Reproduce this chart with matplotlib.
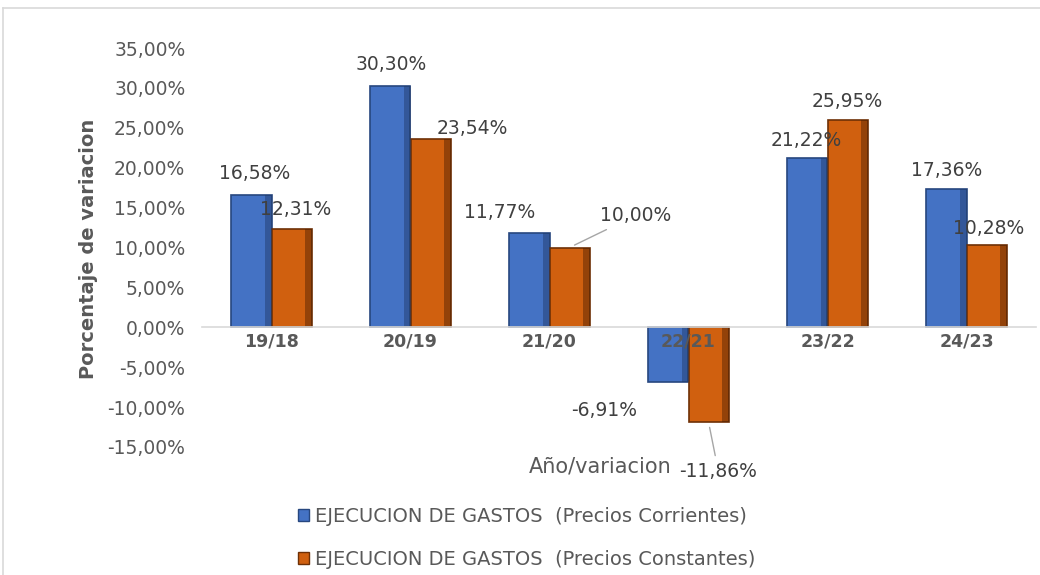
import matplotlib.pyplot as plt
import numpy as np
from matplotlib.lines import Line2D
from matplotlib.patches import Patch

# datos
periodos = ['19/18', '20/19', '21/20', '22/21', '23/22', '24/23']
corrientes = [16.58, 30.30, 11.77, -6.91, 21.22, 17.36]
constantes = [12.31, 23.54, 10.00, -11.86, 25.95, 10.28]
y_ticks = [-15, -10, -5, 0, 5, 10, 15, 20, 25, 30, 35]
serie_corr = 'EJECUCION DE GASTOS  (Precios Corrientes)'
serie_const = 'EJECUCION DE GASTOS  (Precios Constantes)'

# desplazamiento de las etiquetas (pixeles) respecto al extremo de la barra
off_corr = [(3, 21), (1, 21), (-30, 21), (-64, -28), (-1, 17), (0, 18)]
off_const = [(4, 20), (42, 11), (66, 32), (10, -50), (0, 19), (2, 17)]
guia_const = [False, False, True, True, False, False]

AZUL = '#4472C4'
AZUL_BORDE = '#27477F'
NARANJA = '#D0600F'
NARANJA_BORDE = '#6E3006'
GRIS_TXT = '#595959'
GRIS_DAT = '#404040'

plt.rcParams['font.family'] = ['DejaVu Sans']

fig = plt.figure(figsize=(10.4, 5.75), dpi=100)
ax = fig.add_axes([202 / 1040, 1 - 447 / 575, 834 / 1040, 399 / 575])

x = np.arange(len(periodos))
w = 0.288
b1 = ax.bar(x - w / 2, corrientes, w, color=AZUL, edgecolor=AZUL_BORDE, linewidth=1.2, zorder=1)
b2 = ax.bar(x + w / 2, constantes, w, color=NARANJA, edgecolor=NARANJA_BORDE, linewidth=1.2, zorder=1)
# sombra lateral para imitar el biselado
ax.bar(x - w * 0.08, corrientes, w * 0.16, color='#1F3866', alpha=0.45, linewidth=0, zorder=1.1)
ax.bar(x + w * 0.92, constantes, w * 0.16, color='#4A1F02', alpha=0.45, linewidth=0, zorder=1.1)

def etiqueta(v):
    return f'{v:.2f}'.replace('.', ',') + '%'

for i, v in enumerate(corrientes):
    dx, dy = off_corr[i]
    ax.annotate(etiqueta(v), (x[i] - w / 2, v), xytext=(dx, dy), textcoords='offset pixels',
                ha='center', va='center', fontsize=13.5, color=GRIS_DAT, zorder=3)

for i, v in enumerate(constantes):
    dx, dy = off_const[i]
    props = None
    if guia_const[i]:
        props = dict(arrowstyle='-', color='#A6A6A6', lw=1, shrinkA=3, shrinkB=4)
    ax.annotate(etiqueta(v), (x[i] + w / 2, v), xytext=(dx, dy), textcoords='offset pixels',
                ha='center', va='center', fontsize=13.5, color=GRIS_DAT, zorder=3,
                arrowprops=props)

ax.set_xlim(-0.5, len(periodos) - 0.5)
ax.set_ylim(-15, 35)
ax.set_yticks(y_ticks)
ax.set_yticklabels([f'{t:.2f}'.replace('.', ',') + '%' for t in y_ticks])
ax.set_xticks(x)
ax.set_xticklabels(periodos)

for s in ['top', 'right', 'left']:
    ax.spines[s].set_visible(False)
ax.spines['bottom'].set_position(('data', 0))
ax.spines['bottom'].set_color('#D9D9D9')
ax.spines['bottom'].set_linewidth(1.2)
ax.tick_params(axis='y', length=0, pad=12, labelsize=13.5, labelcolor=GRIS_TXT)
ax.tick_params(axis='x', length=0, pad=4, labelsize=12.5, labelcolor=GRIS_TXT)
for lab in ax.get_xticklabels():
    lab.set_fontweight('bold')

fig.text(88 / 1040, 1 - 249 / 575, 'Porcentaje de variacion', rotation=90, ha='center', va='center',
         fontsize=14, fontweight='bold', color=GRIS_TXT)
fig.text(600 / 1040, 1 - 467 / 575, 'Año/variacion', ha='center', va='center',
         fontsize=15, color=GRIS_TXT)

handles = [Patch(facecolor=AZUL, edgecolor=AZUL_BORDE), Patch(facecolor=NARANJA, edgecolor=NARANJA_BORDE)]
fig.legend(handles, [serie_corr, serie_const], loc='upper left', bbox_to_anchor=(290 / 1040, 1 - 499 / 575),
           frameon=False, fontsize=14, handlelength=0.6, handleheight=0.6, handletextpad=0.3,
           labelspacing=1.25, labelcolor=GRIS_TXT, borderaxespad=0)

# marco del grafico
fig.add_artist(Line2D([3 / 1040, 3 / 1040], [0, 1 - 8 / 575], color='#D9D9D9', lw=1.2))
fig.add_artist(Line2D([3 / 1040, 1], [1 - 8 / 575, 1 - 8 / 575], color='#D9D9D9', lw=1.2))

fig.savefig('out.png', dpi=100)
